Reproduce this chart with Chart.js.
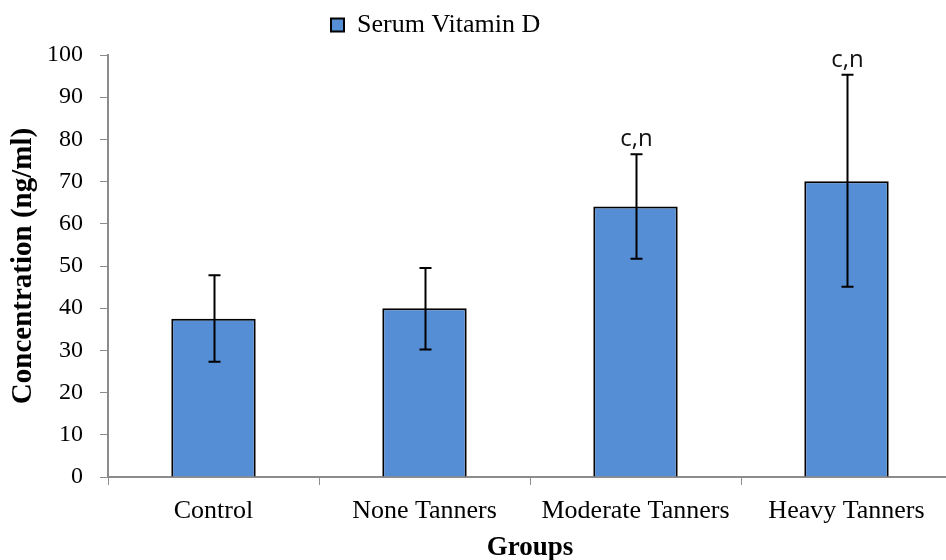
<!DOCTYPE html>
<html>
<head>
<meta charset="utf-8">
<script src="https://cdn.jsdelivr.net/npm/chart.js@4"></script>
<style>
  html, body { margin: 0; padding: 0; background: #fff; overflow: hidden; }
  #wrap { width: 952px; height: 560px; }
</style>
</head>
<body>
<div id="wrap"><canvas id="grafico" width="952" height="560"></canvas></div>
<script>
const categorias = ['Control', 'None Tanners', 'Moderate Tanners', 'Heavy Tanners'];
const vitaminaD = [37.5, 40, 64.1, 70.1];
const erroSup = [47.8, 49.5, 76.5, 95.3];
const erroInf = [27.3, 30.2, 51.7, 45.1];
const marcas = ['', '', 'c,n', 'c,n'];

const fonteSerif = '"Liberation Serif", "Times New Roman", serif';

// barras de erro + letras
const barrasErro = {
    id: 'barrasErro',
    afterLayout(chart) {
        // legenda um pouco à esquerda e acima, como no original
        const lg = chart.legend;
        const pad = lg.options.labels.padding;
        const w = lg.width;
        lg.left = 331 - pad;
        lg.right = lg.left + w;
        lg.top -= 7;
        lg.bottom -= 7;
    },
    afterDatasetsDraw(chart) {
        const ctx = chart.ctx;
        const x = chart.scales.x, y = chart.scales.y;
        ctx.save();
        ctx.strokeStyle = '#000';
        ctx.lineWidth = 2;
        categorias.forEach((c, i) => {
            const px = Math.round(x.getPixelForValue(i)) + 0.5;
            const yt = y.getPixelForValue(erroSup[i]);
            const yb = y.getPixelForValue(erroInf[i]);
            ctx.beginPath();
            ctx.moveTo(px, yt); ctx.lineTo(px, yb);
            ctx.moveTo(px - 6, yt); ctx.lineTo(px + 6, yt);
            ctx.moveTo(px - 6, yb); ctx.lineTo(px + 6, yb);
            ctx.stroke();
            if (marcas[i]) {
                ctx.fillStyle = '#111';
                ctx.font = '24px "Open Sans", "Liberation Sans", sans-serif';
                ctx.textAlign = 'center';
                ctx.textBaseline = 'bottom';
                ctx.fillText(marcas[i], px, yt - 3);
            }
        });
        ctx.restore();
    }
};

new Chart(document.getElementById('grafico'), {
    type: 'bar',
    data: {
        labels: categorias,
        datasets: [{
            label: 'Serum Vitamin D',
            data: vitaminaD,
            backgroundColor: '#558ed5',
            borderColor: '#000',
            borderWidth: 2,
            barPercentage: 0.4,
            categoryPercentage: 1
        }]
    },
    options: {
        responsive: false,
        animation: false,
        layout: { padding: { left: 0, top: 7, right: 0, bottom: 0 } },
        plugins: {
            legend: {
                position: 'top',
                align: 'start',
                labels: {
                    font: { family: fonteSerif, size: 26 },
                    color: '#000',
                    boxWidth: 13,
                    boxHeight: 13,
                    padding: 12
                }
            },
            tooltip: { enabled: false }
        },
        scales: {
            x: {
                afterFit(axis) { axis.height = 83; },
                grid: { drawOnChartArea: false, color: '#8c8c8c', tickLength: 8, offset: true },
                border: { color: '#8c8c8c', width: 2 },
                ticks: { color: '#000', font: { family: fonteSerif, size: 26 }, padding: 11 },
                title: {
                    display: true, text: 'Groups', color: '#000',
                    font: { family: fonteSerif, size: 27, weight: 'bold' },
                    padding: { top: 0, bottom: -4 }
                }
            },
            y: {
                min: 0, max: 100,
                afterFit(axis) { axis.width = 108; },
                grid: { drawOnChartArea: false, color: '#8c8c8c', tickLength: 8 },
                border: { color: '#8c8c8c', width: 2 },
                ticks: { stepSize: 10, color: '#000', font: { family: fonteSerif, size: 24 }, padding: 17 },
                title: {
                    display: true, text: 'Concentration (ng/ml)', color: '#000',
                    font: { family: fonteSerif, size: 29, weight: 'bold' },
                    padding: { top: 6, bottom: 0 }
                }
            }
        }
    },
    plugins: [barrasErro]
});
</script>
</body>
</html>
